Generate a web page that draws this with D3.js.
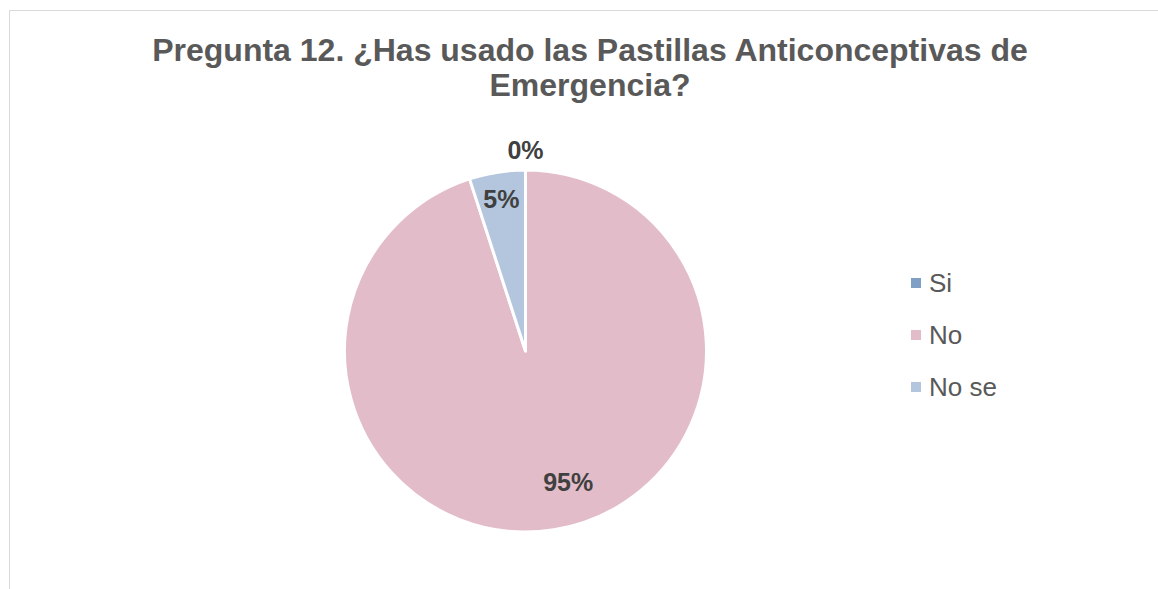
<!DOCTYPE html>
<html>
<head>
<meta charset="utf-8">
<script src="https://cdn.jsdelivr.net/npm/d3@7"></script>
<style>
  body { margin: 0; background: #fff; }
  text { font-family: 'Liberation Sans', Arial, sans-serif; }
</style>
</head>
<body>
<div id="chart"></div>
<script>
'use strict';

// data
const categories = ['Si', 'No', 'No se'];
const values = [0, 95, 5];
const labels = ['0%', '95%', '5%'];
const titleLines = ['Pregunta 12. ¿Has usado las Pastillas Anticonceptivas de', 'Emergencia?'];

const settings = {
    width: 1158,
    height: 589,
    elId: '#chart',
};

const options = {
    cx: 525.5,
    cy: 351,
    radius: 181,
};

const colors = ['#7f9fc4', '#e3bcc9', '#b4c6de'];
// label distance as fraction of radius, plus small x nudge (Excel best fit look)
const labelPos = [1.11, 0.73, 0.85];
const labelNudge = [0, 22, 0];

const svg = d3.select(settings.elId)
    .append('svg')
    .attr('width', settings.width)
    .attr('height', settings.height);

// chart frame (only top and left edges are visible)
svg.append('line')
    .attr('x1', 9.5).attr('y1', 10.5)
    .attr('x2', settings.width).attr('y2', 10.5)
    .attr('stroke', '#d9d9d9');
svg.append('line')
    .attr('x1', 9.5).attr('y1', 10.5)
    .attr('x2', 9.5).attr('y2', settings.height)
    .attr('stroke', '#d9d9d9');

// Title
svg.append('g')
    .selectAll('text')
    .data(titleLines)
    .enter()
    .append('text')
    .text(d => d)
    .attr('x', 590)
    .attr('y', (_, i) => 61 + i * 35)
    .attr('text-anchor', 'middle')
    .attr('font-size', '32px')
    .attr('font-weight', 'bold')
    .attr('fill', '#595959');

const pie = d3.pie()
    .value(d => d)
    .sort(null);

const arc = d3.arc()
    .innerRadius(0)
    .outerRadius(options.radius);

const g = svg.append('g')
    .attr('transform', `translate(${options.cx},${options.cy})`);

const arcsData = pie(values);

g.selectAll('.arc')
    .data(arcsData)
    .enter()
    .append('path')
    .attr('class', 'arc')
    .attr('d', arc)
    .attr('fill', (_, i) => colors[i])
    .attr('stroke', '#fff')
    .attr('stroke-width', 3)
    .attr('stroke-linejoin', 'round');

g.selectAll('.lbl')
    .data(arcsData)
    .enter()
    .append('text')
    .attr('class', 'lbl')
    .text((_, i) => labels[i])
    .attr('transform', function (d, i) {
        const r = options.radius * labelPos[i];
        const a = (d.startAngle + d.endAngle) / 2;
        return `translate(${Math.sin(a) * r + labelNudge[i]},${-Math.cos(a) * r})`;
    })
    .attr('dy', '0.36em')
    .attr('text-anchor', 'middle')
    .attr('font-size', '25px')
    .attr('font-weight', 'bold')
    .attr('fill', '#404040');

// Legend
const legend = svg.append('g')
    .attr('transform', 'translate(911,283)');

const item = legend.selectAll('g')
    .data(categories)
    .enter()
    .append('g')
    .attr('transform', (_, i) => `translate(0,${i * 52})`);

item.append('rect')
    .attr('x', 0)
    .attr('y', -5)
    .attr('width', 10)
    .attr('height', 10)
    .attr('fill', (_, i) => colors[i]);

item.append('text')
    .text(d => d)
    .attr('x', 18)
    .attr('dy', '0.36em')
    .attr('font-size', '26px')
    .attr('fill', '#595959');
</script>
</body>
</html>
